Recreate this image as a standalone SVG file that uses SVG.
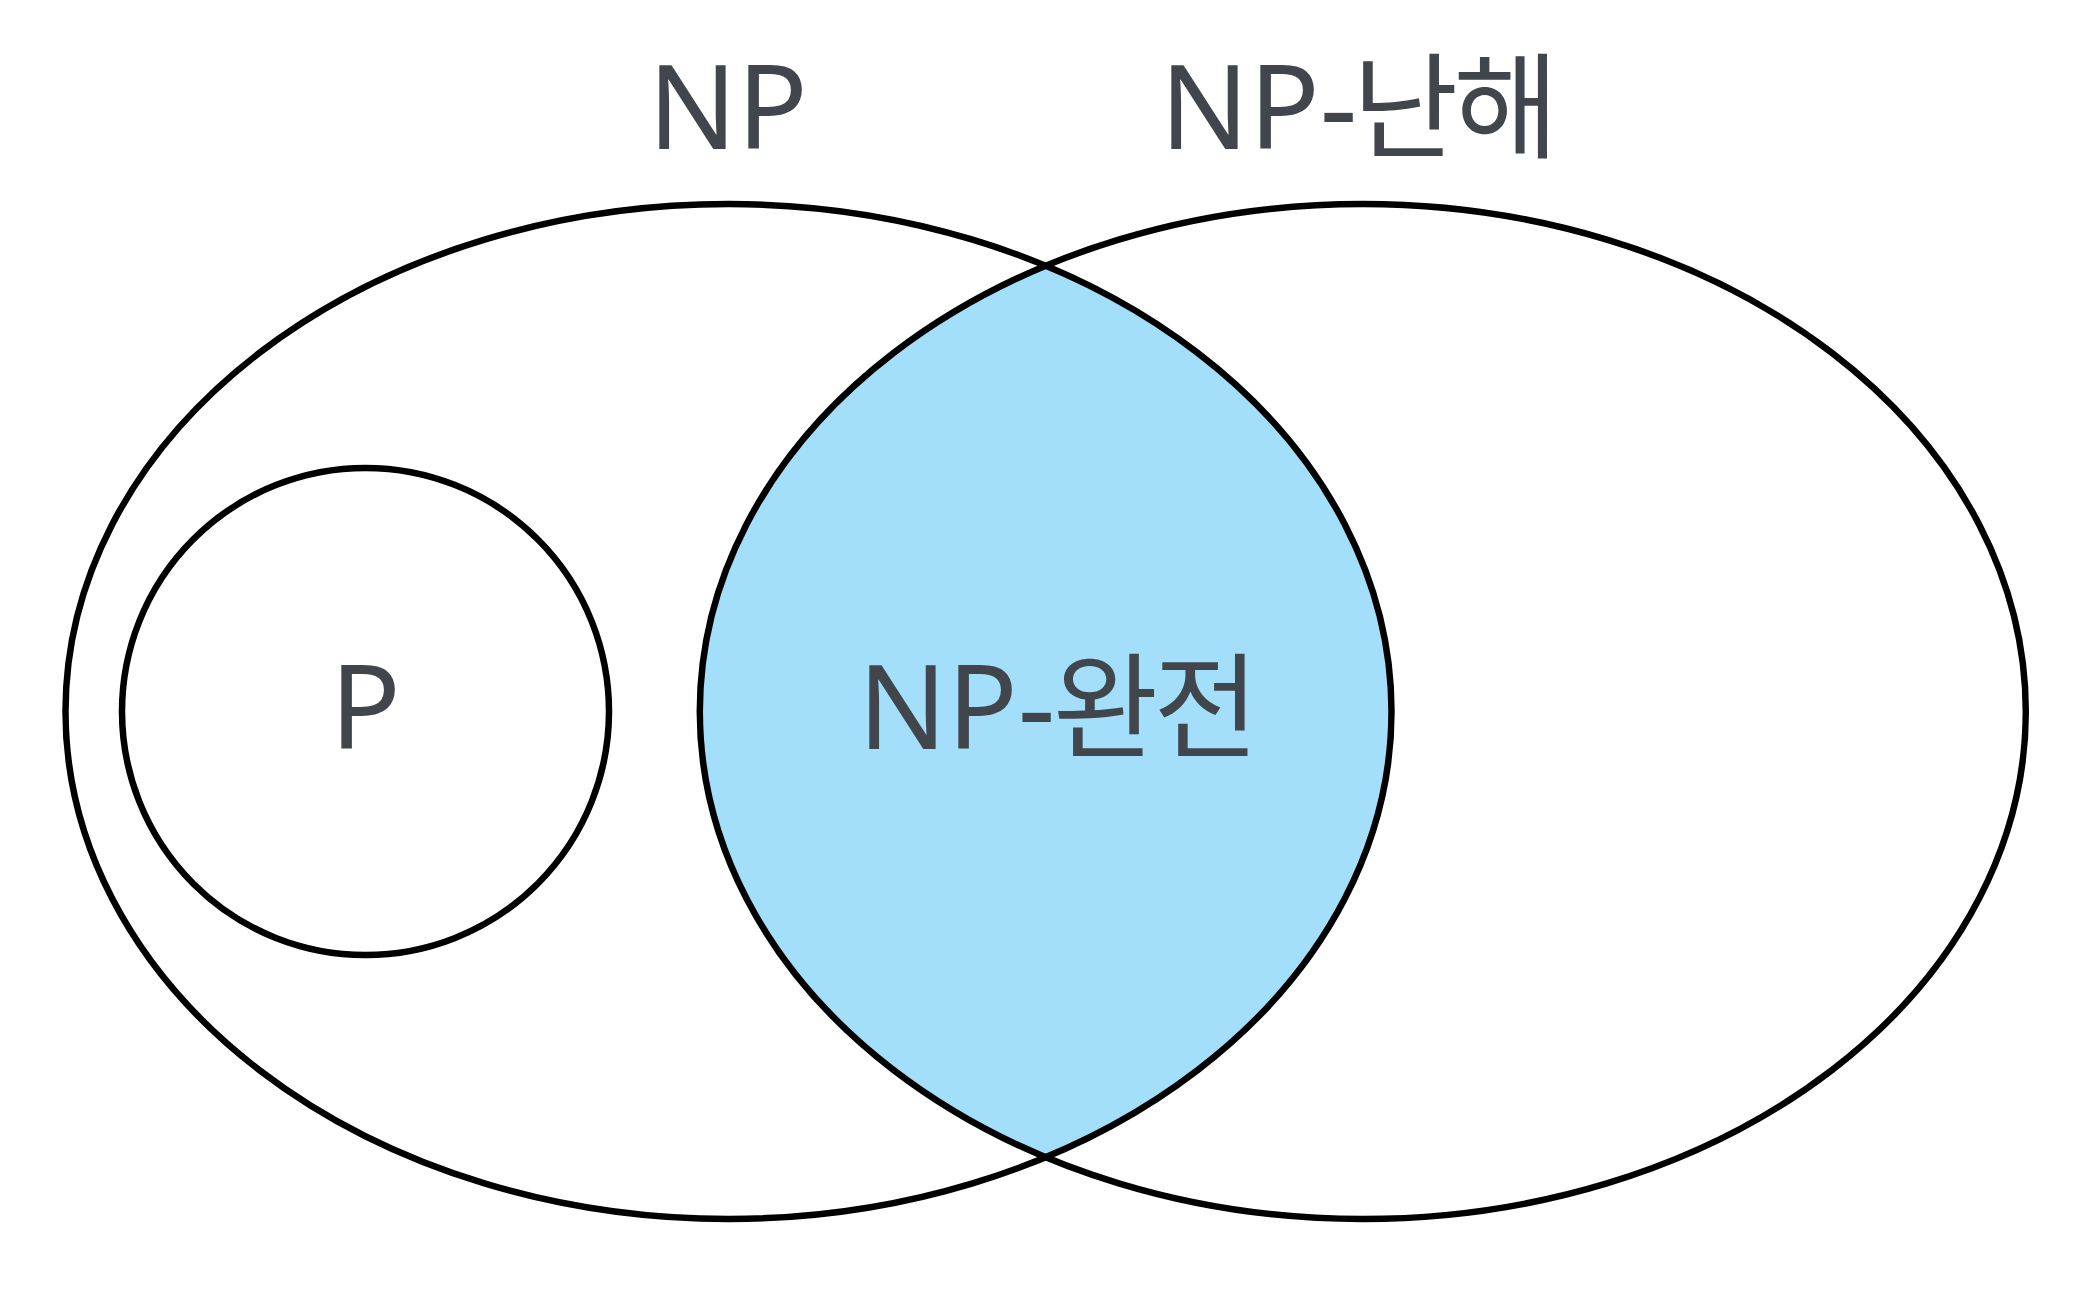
<svg xmlns="http://www.w3.org/2000/svg" width="2092" height="1292" viewBox="0 0 2092 1292">
  <style>
    .set { fill: none; stroke: #000; stroke-width: 6.5; }
    .lbl { font-family: "Noto Sans", "Noto Sans CJK KR", sans-serif; font-size: 117px; fill: #41464d; }
    .ko { font-family: "Noto Sans CJK KR", sans-serif; font-size: 115px; letter-spacing: -5px; }
  </style>
  <defs>
    <clipPath id="clipNP">
      <ellipse cx="728.5" cy="711.5" rx="663" ry="507.5"/>
    </clipPath>
  </defs>
  <rect width="2092" height="1292" fill="#fff"/>
  <g id="npc-fill">
    <ellipse cx="1362.8" cy="711.5" rx="663" ry="507.5" fill="#a3dffb" clip-path="url(#clipNP)"/>
  </g>
  <g id="np">
    <ellipse class="set" cx="728.5" cy="711.5" rx="663" ry="507.5"/>
    <text class="lbl" x="648" y="149">NP</text>
  </g>
  <g id="np-hard">
    <ellipse class="set" cx="1362.8" cy="711.5" rx="663" ry="507.5"/>
    <text class="lbl" x="1160" y="149">NP-<tspan class="ko" dx="-5">난해</tspan></text>
  </g>
  <g id="np-complete">
    <text class="lbl" x="858" y="749">NP-<tspan class="ko" dx="-3">완전</tspan></text>
  </g>
  <g id="p">
    <circle class="set" cx="365.5" cy="711.5" r="243.5"/>
    <text class="lbl" x="330" y="749">P</text>
  </g>
  <g id="connectors"/>
</svg>
